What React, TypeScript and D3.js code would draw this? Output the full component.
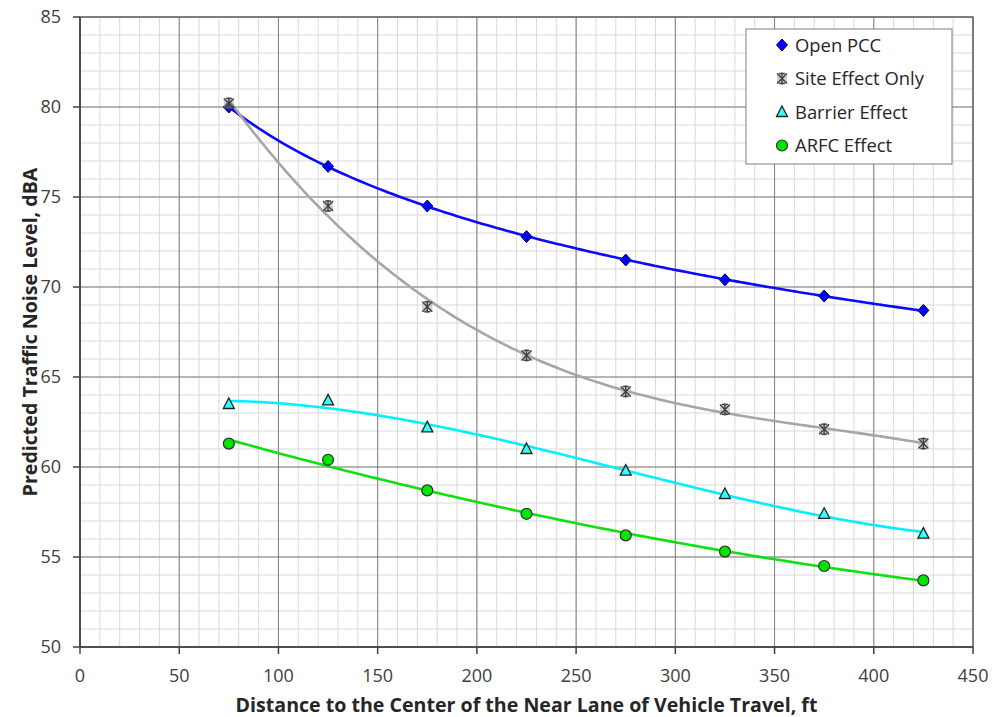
import React from 'react';
import * as d3 from 'd3';

const distances = [75, 125, 175, 225, 275, 325, 375, 425];
const openPCC = [80.0, 76.7, 74.5, 72.8, 71.5, 70.4, 69.5, 68.7];
const siteEffect = [80.2, 74.5, 68.9, 66.2, 64.2, 63.2, 62.1, 61.3];
const barrierEffect = [63.5, 63.7, 62.2, 61.0, 59.8, 58.5, 57.4, 56.3];
const arfcEffect = [61.3, 60.4, 58.7, 57.4, 56.2, 55.3, 54.5, 53.7];

const xTicks = [0, 50, 100, 150, 200, 250, 300, 350, 400, 450];
const yTicks = [50, 55, 60, 65, 70, 75, 80, 85];

const width = 993;
const height = 717;
const margin = { top: 17, right: 20, bottom: 70, left: 80 };
const font = "'Open Sans', sans-serif";

// least squares polynomial fit (like excel trendline)
function polyFit(xs: number[], ys: number[], order: number, tx = (v: number) => v) {
  const n = order + 1;
  const A: number[][] = Array.from({ length: n }, () => new Array(n + 1).fill(0));
  xs.forEach((xv, k) => {
    const t = tx(xv);
    for (let i = 0; i < n; i++) {
      for (let j = 0; j < n; j++) A[i][j] += Math.pow(t, i + j);
      A[i][n] += Math.pow(t, i) * ys[k];
    }
  });
  for (let i = 0; i < n; i++) {
    let p = i;
    for (let r = i + 1; r < n; r++) if (Math.abs(A[r][i]) > Math.abs(A[p][i])) p = r;
    [A[i], A[p]] = [A[p], A[i]];
    for (let r = 0; r < n; r++) {
      if (r === i) continue;
      const f = A[r][i] / A[i][i];
      for (let c = i; c <= n; c++) A[r][c] -= f * A[i][c];
    }
  }
  const coef = A.map((row, i) => row[n] / row[i]);
  return (xv: number) => coef.reduce((s, c, i) => s + c * Math.pow(tx(xv), i), 0);
}

const series = [
  { name: 'Open PCC', values: openPCC, color: '#0a0aff', marker: 'diamond', fit: polyFit(distances, openPCC, 1, Math.log) },
  { name: 'Site Effect Only', values: siteEffect, color: '#a6a6a6', marker: 'star', fit: polyFit(distances, siteEffect, 3) },
  { name: 'Barrier Effect', values: barrierEffect, color: '#00f0ff', marker: 'triangle', fit: polyFit(distances, barrierEffect, 3) },
  { name: 'ARFC Effect', values: arfcEffect, color: '#10e010', marker: 'circle', fit: polyFit(distances, arfcEffect, 2) },
];

function Marker({ type, x, y }: { type: string; x: number; y: number }) {
  if (type === 'diamond') {
    return <path d={`M${x},${y - 6}L${x + 5.5},${y}L${x},${y + 6}L${x - 5.5},${y}Z`} fill="#0000ff" stroke="#000060" strokeWidth={1} />;
  }
  if (type === 'star') {
    return (
      <g stroke="#404040" strokeWidth={1.4}>
        <rect x={x - 5} y={y - 5} width={10} height={10} fill="#b0b0b0" stroke="none" opacity={0.6} />
        <line x1={x - 5} y1={y - 5} x2={x + 5} y2={y + 5} />
        <line x1={x - 5} y1={y + 5} x2={x + 5} y2={y - 5} />
        <line x1={x} y1={y - 6} x2={x} y2={y + 6} />
        <line x1={x - 3} y1={y - 5} x2={x + 3} y2={y - 5} />
        <line x1={x - 3} y1={y + 5} x2={x + 3} y2={y + 5} />
      </g>
    );
  }
  if (type === 'triangle') {
    return <path d={`M${x},${y - 6}L${x + 5.5},${y + 4.5}L${x - 5.5},${y + 4.5}Z`} fill="#33ffff" stroke="#202020" strokeWidth={1.3} />;
  }
  return <circle cx={x} cy={y} r={5.5} fill="#00e600" stroke="#303030" strokeWidth={1.2} />;
}

export default function App() {
  const x = d3.scaleLinear().domain([0, 450]).range([margin.left, width - margin.right]);
  const y = d3.scaleLinear().domain([50, 85]).range([height - margin.bottom, margin.top]);
  const minorX = d3.range(0, 451, 10);
  const minorY = d3.range(50, 86, 1);
  const curveXs = d3.range(75, 425.01, 2.5);
  const line = d3.line<number>().x((d) => x(d)).curve(d3.curveMonotoneX);

  const legendX = 746;
  const legendY = 29;

  return (
    <svg width={width} height={height} style={{ position: 'absolute', left: 0, top: 0, background: '#fff' }} fontFamily={font}>
      <rect width={width} height={height} fill="#fff" />
      {minorX.map((v) => (
        <line key={'mx' + v} x1={x(v)} x2={x(v)} y1={y(50)} y2={y(85)} stroke="#d9d9d9" strokeWidth={1} />
      ))}
      {minorY.map((v) => (
        <line key={'my' + v} x1={x(0)} x2={x(450)} y1={y(v)} y2={y(v)} stroke="#d9d9d9" strokeWidth={1} />
      ))}
      {xTicks.map((v) => (
        <line key={'Mx' + v} x1={x(v)} x2={x(v)} y1={y(50)} y2={y(85)} stroke="#7f7f7f" strokeWidth={1} />
      ))}
      {yTicks.map((v) => (
        <line key={'My' + v} x1={x(0)} x2={x(450)} y1={y(v)} y2={y(v)} stroke="#7f7f7f" strokeWidth={1} />
      ))}
      <rect x={x(0)} y={y(85)} width={x(450) - x(0)} height={y(50) - y(85)} fill="none" stroke="#595959" strokeWidth={1.2} />
      <line x1={x(0)} x2={x(0)} y1={y(50)} y2={y(85)} stroke="#404040" strokeWidth={1.5} />
      <line x1={x(0)} x2={x(450)} y1={y(50)} y2={y(50)} stroke="#404040" strokeWidth={1.5} />
      {yTicks.map((v) => (
        <g key={'yt' + v}>
          <line x1={x(0) - 7} x2={x(0)} y1={y(v)} y2={y(v)} stroke="#404040" strokeWidth={1.5} />
          <text x={x(0) - 19} y={y(v)} dy="0.36em" textAnchor="end" fontSize={18} fill="#404040">{v}</text>
        </g>
      ))}
      {xTicks.map((v) => (
        <g key={'xt' + v}>
          <line x1={x(v)} x2={x(v)} y1={y(50)} y2={y(50) + 7} stroke="#404040" strokeWidth={1.5} />
          <text x={x(v)} y={y(50) + 35} textAnchor="middle" fontSize={18} fill="#404040">{v}</text>
        </g>
      ))}
      {series.map((s) => (
        <path key={'l' + s.name} d={line.y((d) => y(s.fit(d)))(curveXs) || ''} fill="none" stroke={s.color} strokeWidth={2.6} />
      ))}
      {series.map((s) =>
        s.values.map((v, i) => <Marker key={s.name + i} type={s.marker} x={x(distances[i])} y={y(v)} />)
      )}
      <text x={(x(0) + x(450)) / 2} y={712} textAnchor="middle" fontSize={19.6} fontWeight="bold" fill="#262626">
        Distance to the Center of the Near Lane of Vehicle Travel, ft
      </text>
      <text transform={`translate(37,${(y(50) + y(85)) / 2}) rotate(-90)`} textAnchor="middle" fontSize={19.6} fontWeight="bold" fill="#262626">
        Predicted Traffic Noise Level, dBA
      </text>
      <rect x={legendX} y={legendY} width={206} height={135} fill="#fff" stroke="#7f7f7f" strokeWidth={1} />
      {series.map((s, i) => (
        <g key={'lg' + s.name}>
          <Marker type={s.marker} x={legendX + 36} y={legendY + 16 + i * 33.5} />
          <text x={legendX + 49} y={legendY + 16 + i * 33.5} dy="0.36em" fontSize={18.4} fill="#262626">{s.name}</text>
        </g>
      ))}
    </svg>
  );
}
